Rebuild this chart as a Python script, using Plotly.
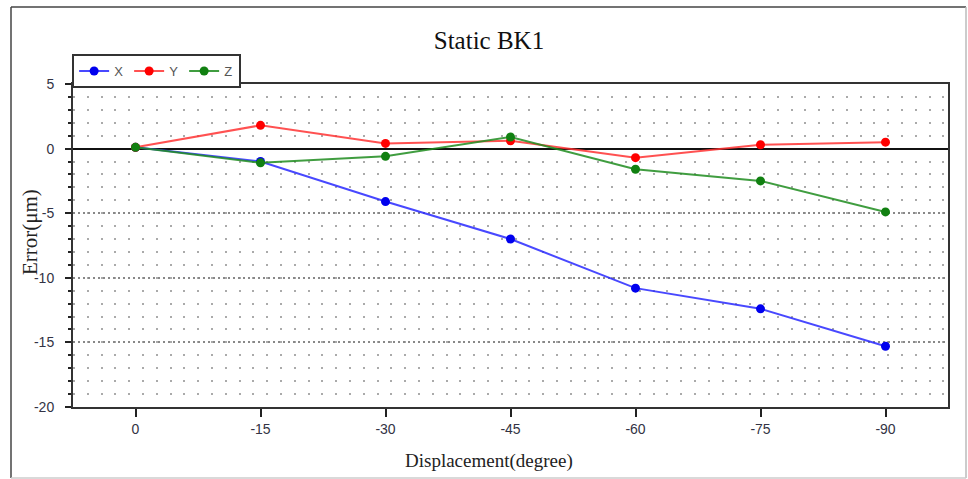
import plotly.graph_objects as go

# ---- data ----
categories = ["0", "-15", "-30", "-45", "-60", "-75", "-90"]
x_err = [0.1, -1.0, -4.1, -7.0, -10.8, -12.4, -15.3]
y_err = [0.1, 1.8, 0.4, 0.6, -0.7, 0.3, 0.5]
z_err = [0.1, -1.1, -0.6, 0.9, -1.6, -2.5, -4.9]
y_tickvals = [5, 0, -5, -10, -15, -20]
y_ticktext = ["5", "0", "-5", "-10", "-15", "-20"]

series = [
    ("X", x_err, "rgba(40,40,255,0.85)", "#0000ee"),
    ("Y", y_err, "rgba(255,50,50,0.85)", "#ff0000"),
    ("Z", z_err, "rgba(30,140,30,0.85)", "#118011"),
]

SANS = "Liberation Sans Narrow, Liberation Sans, Arial, sans-serif"
SERIF = "Liberation Serif, Times New Roman, serif"

fig = go.Figure()
for name, vals, lc, mc in series:
    fig.add_trace(go.Scatter(
        x=categories, y=vals, name=name, mode="lines+markers",
        line=dict(color=lc, width=2),
        marker=dict(color=mc, size=9, symbol="circle"),
    ))

fig.update_layout(
    width=968, height=479,
    margin=dict(l=73, r=20, t=84, b=72),
    paper_bgcolor="white", plot_bgcolor="white",
    title=dict(text="Static BK1", x=0.4754, xref="paper", xanchor="center",
               y=1 - 40 / 479, yanchor="middle",
               font=dict(family=SERIF, size=25, color="#111")),
    showlegend=True,
    legend=dict(orientation="h", x=-0.001, xanchor="left", y=1.0929, yanchor="top",
                bordercolor="#333", borderwidth=2, bgcolor="white",
                font=dict(family=SANS, size=13, color="#555"),
                entrywidth=10, entrywidthmode="pixels",
                itemwidth=30, tracegroupgap=0),
)

fig.update_xaxes(
    type="category", range=[-0.5, 6.5],
    showline=True, linecolor="#333", linewidth=2, mirror=True,
    ticks="outside", ticklen=8, tickwidth=2, tickcolor="#222",
    showgrid=False, zeroline=False,
    tickfont=dict(family=SANS, size=14, color="#334"),
)

fig.update_yaxes(
    range=[-20, 5], tickvals=y_tickvals, ticktext=y_ticktext,
    showline=True, linecolor="#333", linewidth=2, mirror=True,
    ticks="outside", ticklen=6, tickwidth=2, tickcolor="#222",
    ticklabelstandoff=8,
    showgrid=True, gridcolor="#888", gridwidth=2, griddash="2px,3px",
    zeroline=True, zerolinecolor="#111", zerolinewidth=2,
    tickfont=dict(family=SANS, size=14, color="#334"),
    minor=dict(dtick=1, tick0=0, showgrid=True, gridcolor="#aaa", gridwidth=2,
               griddash="2px,11.8px", ticks="outside", ticklen=3, tickcolor="#222"),
)

# axis titles
fig.add_annotation(text="Displacement(degree)", xref="paper", yref="paper",
                   x=0.4754, y=-0.167, xanchor="center", yanchor="middle",
                   showarrow=False, font=dict(family=SERIF, size=19, color="#222"))
fig.add_annotation(text="Error(μm)", xref="paper", yref="paper",
                   x=-0.0491, y=0.5418, xanchor="center", yanchor="middle",
                   textangle=-90, showarrow=False,
                   font=dict(family=SERIF, size=21, color="#222"))

# outer frame
L, R, T, B = (11 - 73) / 875, (966 - 73) / 875, (407 - 7) / 323, (407 - 478) / 323
fig.add_shape(type="line", xref="paper", yref="paper", x0=L, x1=L, y0=B, y1=T,
              line=dict(color="#444", width=1.5))
fig.add_shape(type="line", xref="paper", yref="paper", x0=L, x1=R, y0=T, y1=T,
              line=dict(color="#444", width=1.5))
fig.add_shape(type="line", xref="paper", yref="paper", x0=R, x1=R, y0=B, y1=T,
              line=dict(color="#bbb", width=1.5))
fig.add_shape(type="line", xref="paper", yref="paper", x0=L, x1=R, y0=B, y1=B,
              line=dict(color="#ccc", width=1.5))

fig.write_html("out.html", config={"displayModeBar": False},
               post_script="document.body.style.margin='0';document.body.style.padding='0';")
